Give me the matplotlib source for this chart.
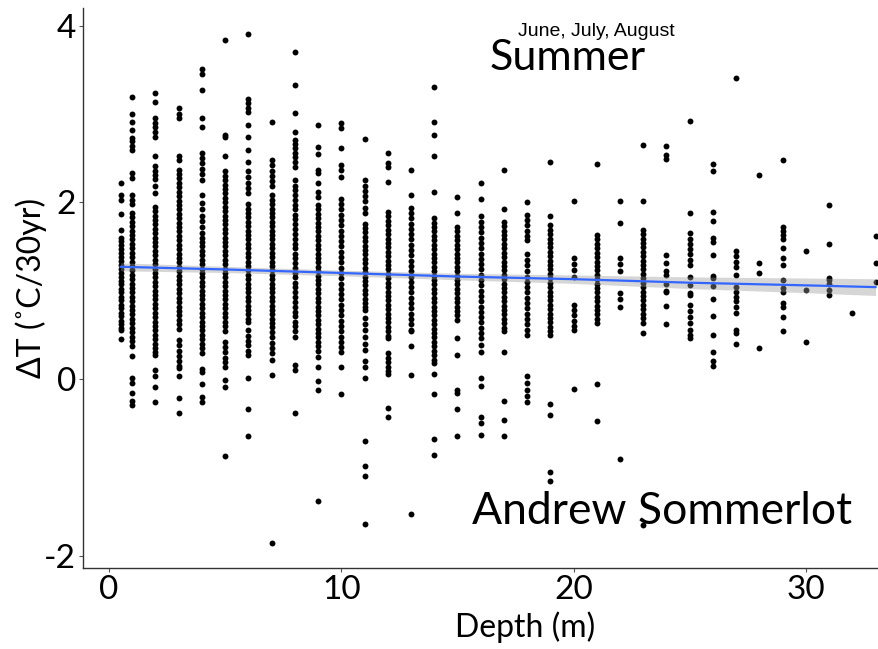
import numpy as np
import matplotlib.pyplot as plt

plt.rcParams['font.family'] = ['Lato', 'DejaVu Sans']
plt.rcParams['axes.unicode_minus'] = False

# depth of each sampled column (m)
depths = [0.5, 1, 2, 3, 4, 5, 6, 7, 8, 9, 10, 11, 12, 13, 14, 15, 16, 17,
          18, 19, 20, 21, 22, 23, 24, 25, 26, 27, 28, 29, 30, 31, 32, 33]

# summer warming values (C / 30 yr) read per column
delta_t = [
    "2.22 2.08 2.03 1.87 1.69 1.60 1.56 1.52 1.47 1.43 1.38 1.34 1.29 1.25 1.20 1.16 1.11 1.07 1.02 0.98 0.93 0.89 0.84 0.80 0.75 0.71 0.66 0.62 0.58 0.55 0.45",
    "3.19 3.00 2.91 2.82 2.73 2.69 2.64 2.59 2.33 2.27 2.08 2.03 1.98 1.88 1.83 1.78 1.73 1.68 1.63 1.58 1.53 1.48 1.43 1.38 1.33 1.28 1.23 1.18 1.13 1.08 1.03 0.98 0.93 0.88 0.83 0.78 0.73 0.68 0.63 0.58 0.53 0.48 0.43 0.37 0.26 0.01 -0.05 -0.16 -0.25 -0.29",
    "3.24 3.14 2.95 2.90 2.85 2.80 2.74 2.53 2.41 2.36 2.31 2.26 2.18 2.10 1.95 1.90 1.85 1.80 1.75 1.70 1.65 1.60 1.55 1.50 1.45 1.40 1.35 1.30 1.25 1.20 1.15 1.10 1.05 1.00 0.95 0.90 0.85 0.80 0.75 0.70 0.65 0.60 0.55 0.50 0.45 0.40 0.35 0.30 0.27 0.10 0.03 -0.09 -0.26",
    "3.07 3.00 2.95 2.52 2.48 2.37 2.32 2.27 2.22 2.17 2.12 2.07 2.02 1.97 1.92 1.87 1.82 1.77 1.72 1.67 1.62 1.57 1.52 1.47 1.42 1.37 1.32 1.27 1.22 1.17 1.12 1.07 1.02 0.97 0.92 0.87 0.82 0.77 0.72 0.67 0.62 0.57 0.44 0.38 0.32 0.26 0.20 0.15 0.12 0.03 -0.21 -0.38",
    "3.51 3.45 3.27 2.96 2.85 2.56 2.50 2.44 2.38 2.32 2.25 2.08 1.99 1.92 1.85 1.79 1.72 1.65 1.60 1.55 1.50 1.45 1.40 1.35 1.30 1.25 1.20 1.15 1.10 1.05 1.00 0.95 0.90 0.85 0.80 0.75 0.70 0.65 0.60 0.55 0.50 0.45 0.40 0.35 0.29 0.11 0.08 -0.06 -0.20 -0.26",
    "3.84 2.76 2.74 2.52 2.35 2.30 2.25 2.20 2.15 2.10 2.05 2.00 1.95 1.90 1.85 1.80 1.75 1.70 1.65 1.60 1.55 1.50 1.45 1.40 1.35 1.30 1.25 1.20 1.15 1.10 1.05 1.00 0.95 0.90 0.85 0.80 0.75 0.70 0.65 0.60 0.54 0.42 0.36 0.30 0.24 0.19 0.14 -0.01 -0.09 -0.87",
    "3.91 3.17 3.12 3.07 3.02 2.87 2.74 2.59 2.46 2.35 2.29 2.22 2.16 2.10 1.98 1.93 1.88 1.83 1.78 1.73 1.68 1.63 1.58 1.53 1.48 1.43 1.38 1.33 1.28 1.23 1.18 1.13 1.08 1.03 0.98 0.93 0.88 0.83 0.78 0.73 0.68 0.65 0.55 0.49 0.43 0.38 0.32 0.27 0.01 -0.34 -0.65",
    "2.91 2.48 2.42 2.36 2.30 2.24 2.18 2.08 2.03 1.98 1.93 1.88 1.83 1.78 1.73 1.68 1.63 1.58 1.53 1.48 1.43 1.38 1.33 1.28 1.23 1.18 1.13 1.08 1.03 0.98 0.93 0.88 0.83 0.78 0.73 0.68 0.63 0.59 0.53 0.47 0.41 0.35 0.29 0.22 0.05 -1.86",
    "3.70 3.33 3.01 2.80 2.71 2.66 2.61 2.56 2.51 2.46 2.40 2.25 2.19 2.14 2.08 2.03 1.97 1.92 1.86 1.81 1.75 1.70 1.64 1.59 1.53 1.48 1.42 1.37 1.31 1.26 1.20 1.15 1.09 1.04 0.98 0.93 0.87 0.82 0.76 0.71 0.65 0.60 0.54 0.48 0.16 0.10 -0.39",
    "2.87 2.63 2.55 2.37 2.33 2.22 2.12 2.06 1.97 1.92 1.87 1.82 1.77 1.72 1.67 1.62 1.57 1.52 1.47 1.42 1.37 1.32 1.27 1.22 1.17 1.12 1.07 1.02 0.97 0.92 0.87 0.82 0.77 0.72 0.67 0.62 0.57 0.52 0.47 0.42 0.37 0.32 0.25 0.13 -0.02 -0.12 -1.38",
    "2.90 2.84 2.62 2.42 2.37 2.29 2.04 1.98 1.92 1.86 1.80 1.74 1.68 1.62 1.56 1.50 1.44 1.38 1.32 1.26 1.20 1.14 1.08 1.02 0.96 0.90 0.84 0.78 0.72 0.66 0.60 0.54 0.48 0.42 0.36 0.31 0.14 -0.17",
    "2.72 2.25 2.19 2.13 2.07 2.01 1.94 1.88 1.76 1.71 1.66 1.61 1.56 1.51 1.46 1.41 1.36 1.31 1.26 1.21 1.16 1.11 1.06 1.01 0.96 0.91 0.86 0.81 0.78 0.69 0.62 0.55 0.47 0.40 0.33 0.20 0.14 0.01 -0.70 -0.99 -1.10 -1.64",
    "2.56 2.44 2.40 2.23 1.89 1.84 1.79 1.74 1.69 1.64 1.59 1.54 1.49 1.44 1.39 1.34 1.29 1.24 1.19 1.14 1.09 1.04 0.99 0.94 0.89 0.84 0.79 0.74 0.69 0.64 0.59 0.54 0.49 0.46 0.29 0.24 0.19 0.14 0.09 0.06 -0.33 -0.43",
    "2.37 2.08 1.94 1.88 1.82 1.76 1.70 1.64 1.58 1.52 1.46 1.40 1.34 1.28 1.22 1.16 1.10 1.04 0.98 0.92 0.86 0.80 0.74 0.68 0.62 0.56 0.54 0.37 0.05 -1.53",
    "3.30 2.91 2.76 2.52 2.12 1.82 1.77 1.72 1.67 1.62 1.57 1.52 1.47 1.42 1.37 1.32 1.27 1.22 1.17 1.12 1.07 1.02 0.97 0.92 0.87 0.82 0.77 0.72 0.67 0.62 0.57 0.52 0.47 0.42 0.37 0.32 0.27 0.22 0.18 0.06 -0.17 -0.68 -0.86",
    "2.06 1.88 1.72 1.67 1.62 1.57 1.52 1.47 1.42 1.37 1.32 1.27 1.22 1.17 1.12 1.07 1.02 0.97 0.92 0.87 0.82 0.77 0.72 0.67 0.46 0.27 -0.12 -0.16 -0.34 -0.64",
    "2.22 2.04 1.84 1.78 1.72 1.66 1.60 1.54 1.48 1.42 1.36 1.30 1.24 1.18 1.12 1.06 1.00 0.94 0.88 0.82 0.76 0.70 0.64 0.58 0.52 0.46 0.39 0.30 0.01 -0.08 -0.43 -0.50 -0.63",
    "2.37 1.93 1.78 1.73 1.68 1.63 1.58 1.53 1.48 1.43 1.38 1.33 1.28 1.23 1.18 1.13 1.08 1.03 0.98 0.93 0.88 0.83 0.78 0.73 0.68 0.63 0.58 0.54 0.30 -0.25 -0.46 -0.65",
    "2.00 1.86 1.80 1.74 1.68 1.62 1.57 1.42 1.35 1.29 1.22 1.16 1.10 1.04 0.98 0.92 0.86 0.80 0.74 0.68 0.62 0.56 0.50 0.03 -0.05 -0.12 -0.19 -0.26",
    "2.46 1.85 1.74 1.69 1.64 1.59 1.54 1.49 1.44 1.39 1.34 1.29 1.24 1.19 1.14 1.09 1.04 0.99 0.94 0.89 0.84 0.79 0.74 0.69 0.64 0.59 0.54 0.50 -0.28 -0.41 -1.05 -1.16",
    "2.01 1.37 1.30 1.23 1.16 0.84 0.78 0.72 0.66 0.60 0.55 -0.11",
    "2.43 1.63 1.58 1.53 1.48 1.43 1.38 1.33 1.28 1.23 1.18 1.13 1.08 1.03 0.98 0.93 0.88 0.83 0.78 0.73 0.68 0.63 -0.06 -0.48",
    "2.02 1.77 1.37 1.30 1.22 0.97 0.90 0.82 -0.91",
    "2.65 2.01 1.69 1.64 1.59 1.54 1.49 1.44 1.39 1.34 1.29 1.24 1.19 1.14 1.09 1.04 0.99 0.94 0.89 0.84 0.79 0.74 0.69 0.63 0.52 -1.65",
    "2.64 2.54 2.49 1.40 1.31 1.22 1.18 1.08 1.00 0.99 0.83 0.62",
    "2.92 1.88 1.65 1.59 1.53 1.47 1.41 1.35 1.29 1.16 1.06 0.97 0.95 0.84 0.77 0.70 0.63 0.56 0.50 0.46",
    "2.43 2.35 1.89 1.79 1.60 1.55 1.40 1.17 1.14 1.05 0.91 0.71 0.50 0.30 0.20 0.15",
    "3.41 1.45 1.39 1.33 1.27 1.18 1.04 0.99 0.93 0.88 0.82 0.75 0.55 0.52 0.40",
    "2.31 1.31 1.20 0.35",
    "2.48 1.72 1.68 1.63 1.59 1.48 1.37 1.29 1.12 1.03 0.99 0.86 0.82 0.70 0.54",
    "1.45 1.01 0.42",
    "1.97 1.53 1.14 1.12 1.07 1.01 0.95",
    "0.75",
    "1.62 1.31 1.10",
]

# linear trend and its confidence band
fit_depth = [0.5, 5, 10, 15, 20, 25, 30, 33]
fit_value = [1.27, 1.24, 1.20, 1.16, 1.13, 1.09, 1.06, 1.04]
fit_halfwidth = [0.045, 0.035, 0.032, 0.037, 0.048, 0.066, 0.083, 0.095]

xs, ys = [], []
for d, col in zip(depths, delta_t):
    vals = [float(v) for v in col.split()]
    xs += [d] * len(vals)
    ys += vals

fig = plt.figure(figsize=(8.79, 6.49), dpi=100)
ax = fig.add_axes([83 / 879, 81 / 649, 796 / 879, 560 / 649])

ax.scatter(xs, ys, s=18, color='black', linewidths=0, zorder=2)
lo = np.array(fit_value) - np.array(fit_halfwidth)
hi = np.array(fit_value) + np.array(fit_halfwidth)
ax.fill_between(fit_depth, lo, hi, color='#999999', alpha=0.4, linewidth=0, zorder=3)
ax.plot(fit_depth, fit_value, color='#3366FF', linewidth=1.6, zorder=4)

ax.set_xlim(-1.12, 33.15)
ax.set_ylim(-2.14, 4.2)
ax.set_xticks([0, 10, 20, 30])
ax.set_yticks([-2, 0, 2, 4])
for s in ['top', 'right']:
    ax.spines[s].set_visible(False)
for s in ['left', 'bottom']:
    ax.spines[s].set_color('#333333')
    ax.spines[s].set_linewidth(1.0)
ax.tick_params(axis='both', labelsize=24, length=3, width=0.8, color='#555555', pad=2)

ax.set_xlabel('Depth (m)', fontsize=23)
ax.xaxis.set_label_coords(0.555, -0.078)
ax.set_ylabel('ΔT (˚C/30yr)', fontsize=23)
ax.yaxis.set_label_coords(-0.045, 0.5)

fig.text(596 / 879, 1 - 32 / 649, 'June, July, August', fontsize=14,
         family=['Liberation Sans', 'DejaVu Sans'], ha='center', va='center')
fig.text(568 / 879, 1 - 58 / 649, 'Summer', fontsize=31, ha='center', va='center')
fig.text(662 / 879, 1 - 511 / 649, 'Andrew Sommerlot', fontsize=32, ha='center', va='center')

plt.savefig('out.png', dpi=100)
